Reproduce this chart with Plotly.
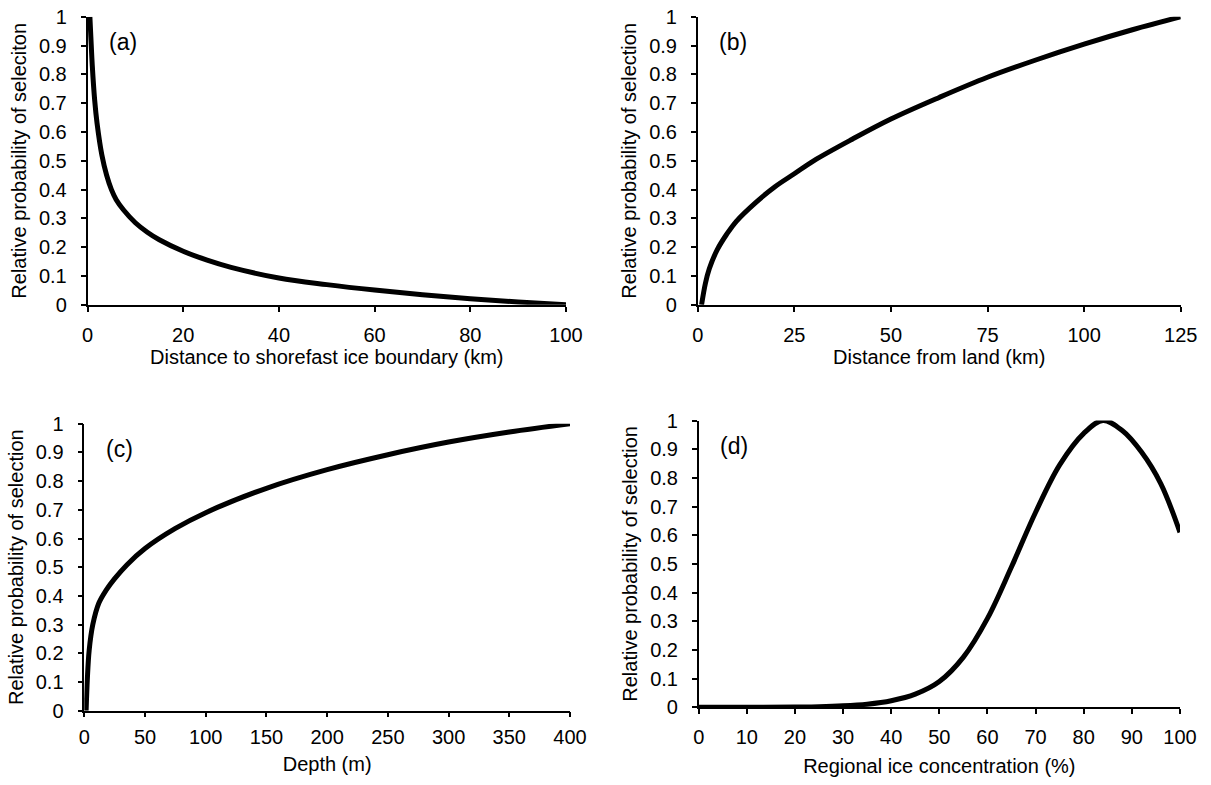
import plotly.graph_objects as go

# ---- data ----
# (a) distance to shorefast ice boundary (km)
a_x = [0.5, 0.7, 1.0, 1.5, 2, 3, 4, 5, 6, 7.5, 10, 12.5, 15, 20, 25, 30, 40, 50, 60, 70, 80, 90, 100]
a_y = [1.0, 0.93, 0.83, 0.71, 0.63, 0.52, 0.45, 0.40, 0.365, 0.33, 0.285, 0.252, 0.226, 0.186, 0.155, 0.13, 0.093, 0.07, 0.051, 0.035, 0.021, 0.01, 0.0]

# (b) distance from land (km)
b_x = [1, 2, 3, 5, 7.5, 10, 15, 20, 25, 30, 40, 50, 62.5, 75, 87.5, 100, 112.5, 125]
b_y = [0, 0.075, 0.125, 0.19, 0.245, 0.29, 0.355, 0.41, 0.455, 0.50, 0.575, 0.645, 0.72, 0.79, 0.85, 0.905, 0.955, 1.0]

# (c) depth (m)
c_x = [1.5, 2.5, 4, 7, 12, 18, 25, 35, 50, 75, 100, 150, 200, 250, 300, 350, 400]
c_y = [0, 0.11, 0.21, 0.30, 0.375, 0.42, 0.46, 0.508, 0.565, 0.635, 0.69, 0.775, 0.84, 0.892, 0.936, 0.971, 1.0]

# (d) regional ice concentration (%)
d_x = [0, 10, 20, 25, 30, 35, 40, 45, 50, 55, 60, 65, 70, 75, 80, 84, 88, 92, 96, 100]
d_y = [0, 0, 0.001, 0.002, 0.005, 0.011, 0.023, 0.046, 0.09, 0.175, 0.31, 0.49, 0.68, 0.845, 0.955, 1.0, 0.965, 0.89, 0.78, 0.61]

panel_labels = ["(a)", "(b)", "(c)", "(d)"]
x_titles = ["Distance to shorefast ice boundary (km)", "Distance from land (km)",
            "Depth (m)", "Regional ice concentration (%)"]
y_titles = ["Relative probability of seleciton", "Relative probability of selection",
            "Relative probability of selection", "Relative probability of selection"]
x_ranges = [[0, 100], [0, 125], [0, 400], [0, 100]]
x_dticks = [20, 25, 50, 10]

W, H = 1211, 785
FONT = "Liberation Sans, Arial, Helvetica, sans-serif"

# pixel boxes of the plot areas: (left, right, top, bottom)
boxes = [(87.5, 566, 16.8, 304.8),
         (697.7, 1180.7, 16.8, 304.8),
         (84.3, 570, 423.7, 710.7),
         (698.7, 1180, 420.5, 707.3)]
x_standoff = [1, 1, 10, 12]
x_lblpad = [6, 6, 3, 6]

series = [(a_x, a_y), (b_x, b_y), (c_x, c_y), (d_x, d_y)]

fig = go.Figure()
layout = dict(
    width=W, height=H,
    margin=dict(l=0, r=0, t=0, b=0),
    paper_bgcolor="white", plot_bgcolor="white",
    showlegend=False,
    font=dict(family=FONT, size=20, color="black"),
)
annotations = []
for i, ((xs, ys), box) in enumerate(zip(series, boxes)):
    n = "" if i == 0 else str(i + 1)
    l, r, t, b = box
    fig.add_trace(go.Scatter(
        x=xs, y=ys, mode="lines",
        line=dict(color="black", width=5, shape="spline", smoothing=1.0),
        cliponaxis=False,
        xaxis="x" + n, yaxis="y" + n, hoverinfo="skip"))
    axis_common = dict(
        showgrid=False, zeroline=False, showline=True, linecolor="black", linewidth=1.5,
        ticks="outside", ticklen=5, tickwidth=1.5, tickcolor="black",
        tickfont=dict(family=FONT, size=20, color="black"),
        automargin=False,
    )
    layout["xaxis" + n] = dict(
        axis_common, domain=[l / W, r / W], range=x_ranges[i], dtick=x_dticks[i], tick0=0,
        anchor="y" + n, ticklabelstandoff=x_lblpad[i],
        title=dict(text=x_titles[i], font=dict(family=FONT, size=20), standoff=x_standoff[i]),
    )
    layout["yaxis" + n] = dict(
        axis_common, domain=[1 - b / H, 1 - t / H], range=[0, 1], dtick=0.1, tick0=0,
        anchor="x" + n, ticklabelstandoff=10,
        title=dict(text=y_titles[i], font=dict(family=FONT, size=20), standoff=7),
    )
    annotations.append(dict(
        text=panel_labels[i], xref="x" + n + " domain", yref="y" + n + " domain",
        x=0.04, y=0.965, xanchor="left", yanchor="top", showarrow=False,
        font=dict(family=FONT, size=23, color="black")))
layout["annotations"] = annotations
fig.update_layout(**layout)
fig.write_html("out.html",
               config={"displayModeBar": False},
               post_script="document.body.style.margin='0';document.body.style.padding='0';"
                           "document.body.style.overflow='hidden';")
